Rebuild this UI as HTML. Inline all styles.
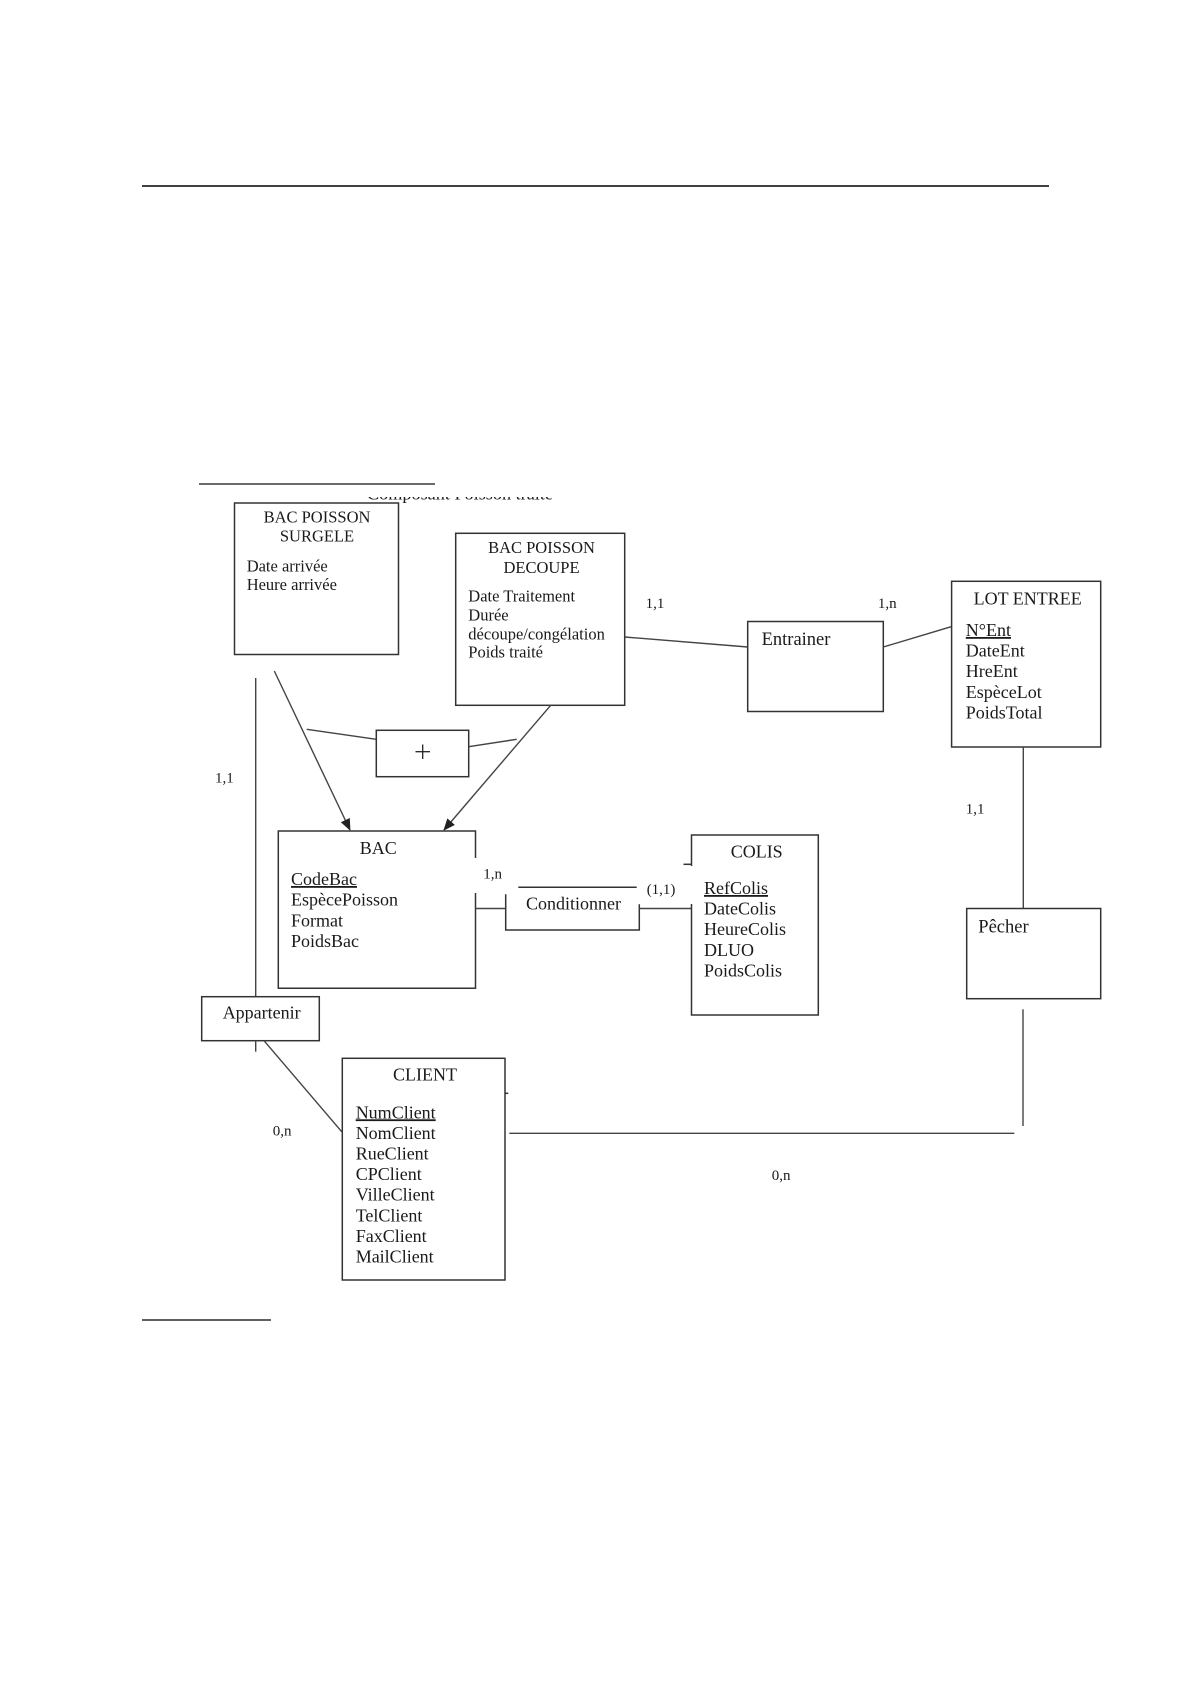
<!DOCTYPE html>
<html>
<head>
<meta charset="utf-8">
<style>
html,body{margin:0;padding:0;background:#fff;}
svg{display:block;}
text{font-family:"Liberation Serif","DejaVu Serif",serif;fill:#1a1a1a;}
.t{font-size:18px;}
.s{font-size:16.5px;}
.c{font-size:15px;}
.r{font-size:18.5px;}
.box{fill:none;stroke:#333;stroke-width:1.5;}
.ln{stroke:#444;stroke-width:1.4;fill:none;}
</style>
</head>
<body>
<svg width="1190" height="1684" viewBox="0 0 1190 1684" xmlns="http://www.w3.org/2000/svg">
<defs>
<clipPath id="clipT" clipPathUnits="userSpaceOnUse"><rect x="360" y="497" width="200" height="6"/></clipPath>
<marker id="ar" markerWidth="12" markerHeight="10" refX="11" refY="5" orient="auto" markerUnits="userSpaceOnUse">
<path d="M0,0 L12,5 L0,10 z" fill="#222"/>
</marker>
</defs>

<!-- page lines -->
<line x1="142" y1="186" x2="1049" y2="186" stroke="#000" stroke-width="1.6"/>
<line x1="199" y1="484" x2="435" y2="484" stroke="#111" stroke-width="1.2"/>
<line x1="142" y1="1320" x2="271" y2="1320" stroke="#000" stroke-width="1.3"/>
<g clip-path="url(#clipT)">
<text x="367" y="499.5" font-size="17" textLength="186" lengthAdjust="spacingAndGlyphs">Composant Poisson traité</text>
</g>

<!-- BAC POISSON SURGELE -->
<rect class="box" x="234.5" y="503" width="164" height="151.5"/>
<text class="s" x="317" y="522.7" text-anchor="middle">BAC POISSON</text>
<text class="s" x="317" y="541.7" text-anchor="middle">SURGELE</text>
<text class="s" x="246.7" y="571.7">Date arrivée</text>
<text class="s" x="246.7" y="590">Heure arrivée</text>

<!-- BAC POISSON DECOUPE -->
<rect class="box" x="455.7" y="533.3" width="169" height="172"/>
<text class="s" x="541.5" y="553" text-anchor="middle">BAC POISSON</text>
<text class="s" x="541.5" y="573" text-anchor="middle">DECOUPE</text>
<text class="s" x="468.3" y="601.7">Date Traitement</text>
<text class="s" x="468.3" y="620.7">Durée</text>
<text class="s" x="468.3" y="639.3">découpe/congélation</text>
<text class="s" x="468.3" y="657.7">Poids traité</text>

<!-- Entrainer -->
<line class="ln" x1="624.7" y1="637" x2="747.7" y2="647"/>
<rect class="box" x="747.7" y="621.5" width="135.6" height="90"/>
<text class="r" x="761.6" y="645">Entrainer</text>
<line class="ln" x1="883.3" y1="647" x2="951.6" y2="626.6"/>
<text class="c" x="645.6" y="608">1,1</text>
<text class="c" x="877.9" y="608">1,n</text>

<!-- LOT ENTREE -->
<rect class="box" x="951.6" y="581.3" width="149.1" height="165.7"/>
<text class="t" x="1027.7" y="604.6" text-anchor="middle">LOT ENTREE</text>
<text class="t" x="965.8" y="636" text-decoration="underline">N°Ent</text>
<text class="t" x="965.8" y="656.6">DateEnt</text>
<text class="t" x="965.8" y="677.2">HreEnt</text>
<text class="t" x="965.8" y="697.8">EspèceLot</text>
<text class="t" x="965.8" y="718.4">PoidsTotal</text>

<!-- Pêcher -->
<line class="ln" x1="1023.3" y1="747" x2="1023.3" y2="908.5"/>
<text class="c" x="965.7" y="813.3">1,1</text>
<rect class="box" x="966.7" y="908.5" width="134" height="90.2"/>
<text class="r" x="978.3" y="932.3">Pêcher</text>
<line class="ln" x1="1023" y1="1009.3" x2="1023" y2="1126"/>
<line class="ln" x1="509.3" y1="1133.3" x2="1014.3" y2="1133.3"/>
<text class="c" x="771.7" y="1180">0,n</text>

<!-- left vertical / Appartenir -->
<line class="ln" x1="255.7" y1="678" x2="255.7" y2="996.7"/>
<text class="c" x="215" y="782.7">1,1</text>

<!-- inheritance arrows -->
<line class="ln" x1="274.3" y1="671" x2="350" y2="830" marker-end="url(#ar)"/>
<line class="ln" x1="550.7" y1="705.3" x2="444" y2="830" marker-end="url(#ar)"/>
<rect class="box" x="376.3" y="730.3" width="92.4" height="46.4"/>
<line x1="415.5" y1="751.7" x2="430" y2="751.7" stroke="#222" stroke-width="1.3"/>
<line x1="422.7" y1="744.5" x2="422.7" y2="759" stroke="#222" stroke-width="1.3"/>
<line class="ln" x1="306.7" y1="729.3" x2="376.3" y2="739.3"/>
<line class="ln" x1="468.7" y1="746.7" x2="516.7" y2="739.3"/>

<!-- BAC -->
<path class="box" d="M475.5,858 L475.5,831 L278.3,831 L278.3,988.3 L475.5,988.3 L475.5,893"/>
<text class="t" x="378.3" y="854" text-anchor="middle">BAC</text>
<text class="t" x="291" y="885" text-decoration="underline">CodeBac</text>
<text class="t" x="291" y="905.7">EspècePoisson</text>
<text class="t" x="291" y="926.4">Format</text>
<text class="t" x="291" y="947.1">PoidsBac</text>
<text class="c" x="483.3" y="878.3">1,n</text>

<!-- Conditionner -->
<line class="ln" x1="475.5" y1="908.5" x2="505.7" y2="908.5"/>
<line class="box" x1="518.3" y1="887.3" x2="636.7" y2="887.3"/>
<path class="box" d="M505.7,894.3 L505.7,930 L639.3,930 L639.3,904.3"/>
<text class="t" x="526" y="909.3">Conditionner</text>
<text class="c" x="646.7" y="894">(1,1)</text>
<line class="ln" x1="639.3" y1="908.5" x2="691.5" y2="908.5"/>

<!-- COLIS -->
<path class="box" d="M691.5,866 L691.5,835 L818.3,835 L818.3,1015 L691.5,1015 L691.5,904"/>
<line class="box" x1="683.5" y1="864.3" x2="691.5" y2="864.3"/>
<text class="t" x="756.7" y="857.3" text-anchor="middle">COLIS</text>
<text class="t" x="704" y="894" text-decoration="underline">RefColis</text>
<text class="t" x="704" y="914.6">DateColis</text>
<text class="t" x="704" y="935.2">HeureColis</text>
<text class="t" x="704" y="955.8">DLUO</text>
<text class="t" x="704" y="976.4">PoidsColis</text>

<!-- Appartenir -->
<rect class="box" x="201.7" y="996.7" width="117.6" height="44"/>
<text class="t" x="222.7" y="1018.3">Appartenir</text>
<line class="ln" x1="255.7" y1="1040.7" x2="255.7" y2="1051.7"/>
<line class="ln" x1="264" y1="1040.7" x2="341.7" y2="1131.7"/>
<text class="c" x="272.7" y="1135.7">0,n</text>

<!-- CLIENT -->
<rect class="box" x="342.3" y="1058.3" width="162.7" height="221.7"/>
<line class="box" x1="505" y1="1093.3" x2="508.3" y2="1093.3"/>
<text class="t" x="425" y="1080.7" text-anchor="middle">CLIENT</text>
<text class="t" x="355.7" y="1118.3" text-decoration="underline">NumClient</text>
<text class="t" x="355.7" y="1138.9">NomClient</text>
<text class="t" x="355.7" y="1159.5">RueClient</text>
<text class="t" x="355.7" y="1180.1">CPClient</text>
<text class="t" x="355.7" y="1200.7">VilleClient</text>
<text class="t" x="355.7" y="1221.3">TelClient</text>
<text class="t" x="355.7" y="1241.9">FaxClient</text>
<text class="t" x="355.7" y="1262.5">MailClient</text>
</svg>
</body>
</html>
